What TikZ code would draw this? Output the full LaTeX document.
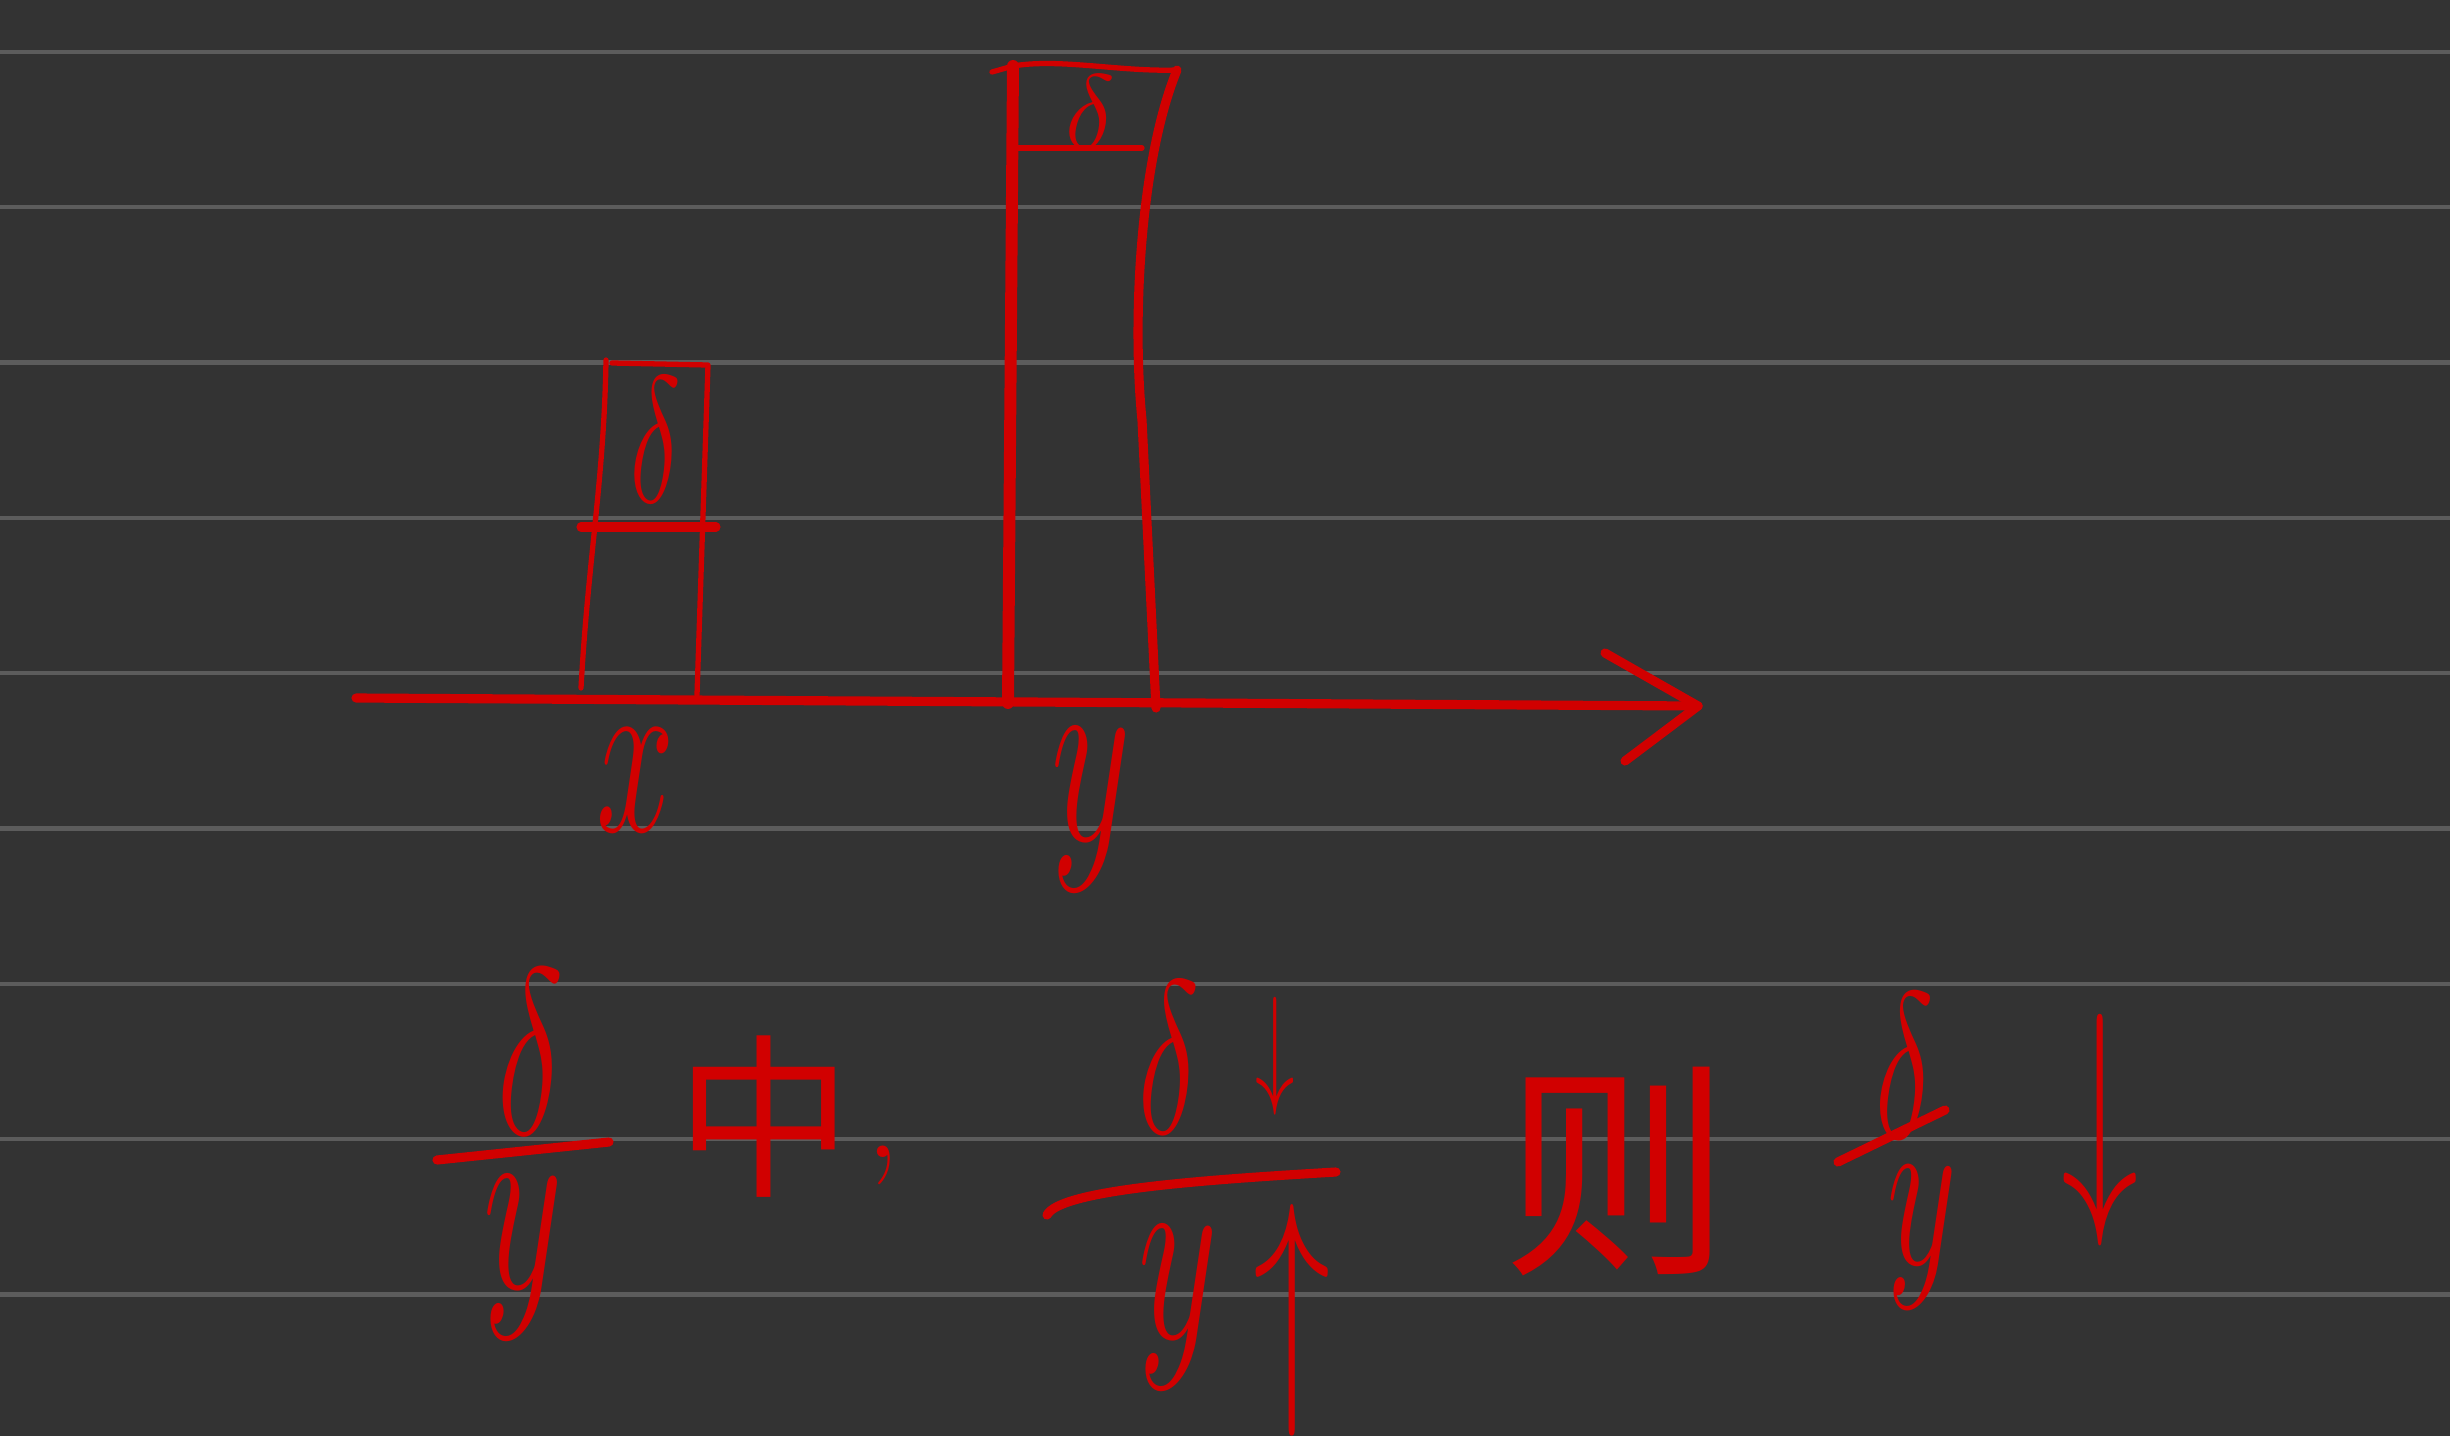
\RequirePackage{fix-cm}
\documentclass[tikz,border=0pt]{standalone}
\usepackage{fontspec}
\usepackage{graphicx}
\newfontfamily\cjk{Noto Sans CJK SC}
\definecolor{board}{HTML}{333333}
\definecolor{ruling}{HTML}{5C5C5C}
\definecolor{ink}{HTML}{D10000}
\tikzset{
  pen/.style={draw=ink,line width=2.6pt,line cap=round,line join=round},
  thinpen/.style={pen,line width=1.5pt},
  hand/.style={text=ink,inner sep=0pt,font=\fontsize{#1}{#1}\selectfont},
  hand/.default=50
}
\newcommand{\tallish}[1]{\scalebox{0.8}[1.35]{#1}}
\begin{document}
\begin{tikzpicture}[x=0.01cm,y=-0.01cm]
\fill[board] (0,0) rectangle (2450,1436);
\useasboundingbox (0,0) rectangle (2450,1436);
\foreach \k in {0,...,8}
  \draw[ruling,line width=1.2pt] (0,{52+155.3*\k}) -- (2450,{52+155.3*\k});

% axis
\coordinate (o) at (356,698);
\coordinate (e) at (1698,706);
\coordinate (h1) at (1605,653);
\coordinate (h2) at (1625,761);
\draw[pen] (o) -- (e);
\draw[pen] (h1) -- (e) -- (h2);

% small bar
\coordinate (s0) at (581,688);
\coordinate (s1) at (606,360);
\coordinate (s2) at (612,363);
\coordinate (s3) at (708,365);
\coordinate (s4) at (697,695);
\coordinate (sm1) at (581,527);
\coordinate (sm2) at (716,527);
\draw[thinpen] (s0) .. controls (588,560) and (604,480) .. (s1);
\draw[thinpen] (s2) -- (s3) -- (s4);
\draw[pen] (sm1) -- (sm2);
\node[hand=38] (d1) at (656,440) {\tallish{$\delta$}};
\node[hand=50] (lx) at (636,780) {\tallish{$x$}};

% tall bar
\coordinate (t0) at (1008,703);
\coordinate (t1) at (1013,66);
\coordinate (tk) at (992,72);
\coordinate (t2) at (1177,70);
\coordinate (t3) at (1156,708);
\coordinate (tm1) at (1010,148);
\coordinate (tm2) at (1142,148);
\draw[pen,line width=3.4pt] (t0) -- (t1);
\draw[thinpen] (tk) -- (t1) .. controls (1060,58) and (1120,72) .. (t2);
\draw[pen] (t2) .. controls (1140,160) and (1132,320) .. (1142,420) -- (t3);
\draw[thinpen] (tm1) -- (tm2);
\node[hand=30] (d2) at (1090,112) {$\delta$};
\node[hand=55] (ly) at (1091,810) {\tallish{$y$}};

% bottom line
\node[hand=50] (f1n) at (531,1052) {\tallish{$\delta$}};
\coordinate (f1a) at (437,1160);
\coordinate (f1b) at (609,1142);
\draw[pen] (f1a) -- (f1b);
\node[hand=55] (f1d) at (523,1258) {\tallish{$y$}};
\node[hand=50,font=\cjk\fontsize{50}{50}\selectfont] (zh) at (764,1117) {中};
\node[hand=40] (cm) at (883,1165) {,};

\node[hand=46] (f2n) at (1169,1058) {\tallish{$\delta$}};
\node[hand=28] (f2dn) at (1275,1056) {\tallish{$\downarrow$}};
\coordinate (f2a) at (1047,1215);
\coordinate (f2b) at (1336,1172);
\draw[pen] (f2a) .. controls (1060,1190) and (1200,1180) .. (f2b);
\node[hand=55] (f2d) at (1178,1308) {\tallish{$y$}};
\node[hand=55] (f2up) at (1292,1320) {\tallish{$\uparrow$}};

\node[hand=65,font=\cjk\fontsize{65}{65}\selectfont] (ze) at (1617,1172) {则};

\node[hand=44] (f3n) at (1905,1066) {\tallish{$\delta$}};
\coordinate (f3a) at (1838,1162);
\coordinate (f3b) at (1945,1110);
\draw[pen] (f3a) -- (f3b);
\node[hand=48] (f3d) at (1922,1238) {\tallish{$y$}};
\node[hand=55] (f3dn) at (2100,1130) {\tallish{$\downarrow$}};
\end{tikzpicture}
\end{document}
